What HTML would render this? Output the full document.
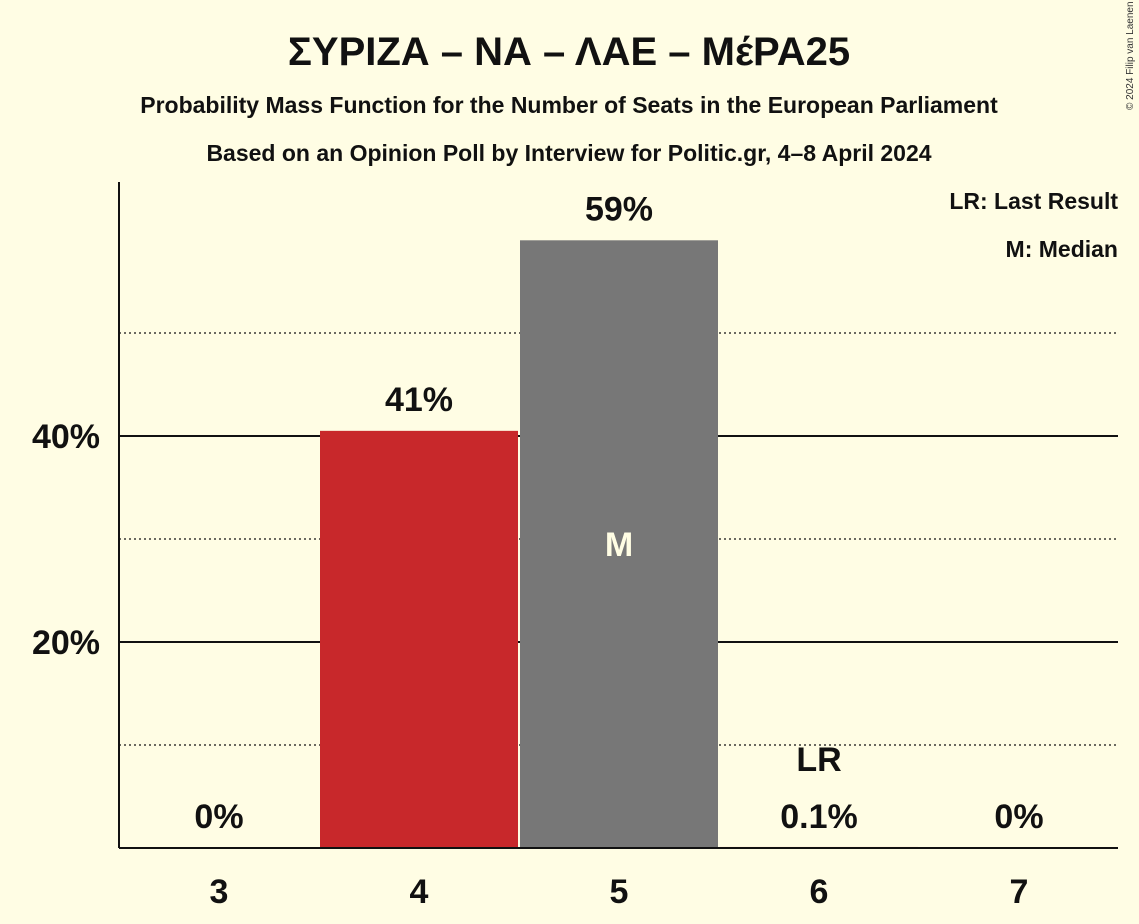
<!DOCTYPE html>
<html><head><meta charset="utf-8"><style>
body{margin:0;background:#FFFDE4;}
svg{display:block;font-family:"Liberation Sans","DejaVu Sans",sans-serif;}
</style></head><body>
<svg id="chart" width="1139" height="924">
<rect width="1139" height="924" fill="#FFFDE4"/>
<text x="569" y="65" text-anchor="middle" font-size="40" font-weight="bold" fill="#111">ΣΥΡΙΖΑ – ΝΑ – ΛΑΕ – ΜέΡΑ25</text>
<text x="569" y="113" text-anchor="middle" font-size="23" font-weight="bold" fill="#111">Probability Mass Function for the Number of Seats in the European Parliament</text>
<text x="569" y="161" text-anchor="middle" font-size="23" font-weight="bold" fill="#111">Based on an Opinion Poll by Interview for Politic.gr, 4–8 April 2024</text>
<text x="1133" y="110" font-size="10" fill="#333" transform="rotate(-90 1133 110)">© 2024 Filip van Laenen</text>
<text x="1118" y="209" text-anchor="end" font-size="23" font-weight="bold" fill="#111">LR: Last Result</text>
<text x="1118" y="257" text-anchor="end" font-size="23" font-weight="bold" fill="#111">M: Median</text>
<g id="grid"></g><g id="bars"></g><g id="labels"></g>
<line x1="119" y1="182" x2="119" y2="848" stroke="#111" stroke-width="2"/>
<line x1="119" y1="848" x2="1118" y2="848" stroke="#111" stroke-width="2"/>
</svg>
<script>
const seats=[3,4,5,6,7];
const probs=[0,40.5,59.0,0.1,0];
const valueLabels=["0%","41%","59%","0.1%","0%"];
const barColors=["#C8282B","#C8282B","#777777","#C8282B","#C8282B"];
const yTicks=[20,40];
const yMinor=[10,30,50];
const medianSeat=5, lastResultSeat=6;
const NS="http://www.w3.org/2000/svg";
const x0=119,band=200,yBase=848,pxPer=10.3;
const xs=i=>x0+band*i+band/2;
const ys=v=>yBase-v*pxPer;
function mk(t,a,p){const e=document.createElementNS(NS,t);for(const k in a)e.setAttribute(k,a[k]);document.getElementById(p).appendChild(e);return e;}
yMinor.forEach(v=>{const l=mk('line',{x1:x0,x2:1118,y1:ys(v),y2:ys(v),stroke:'#111','stroke-width':1.3,'stroke-dasharray':'2,3'},'grid');

});
yTicks.forEach(v=>{const l=mk('line',{x1:x0,x2:1118,y1:ys(v),y2:ys(v),stroke:'#111','stroke-width':2},'grid');


const t=mk('text',{x:100,y:ys(v)+12,'text-anchor':'end','font-size':34,'font-weight':'bold',fill:'#111'},'grid');t.textContent=v+'%';

});
seats.forEach((s,i)=>{const cx=xs(i);
if(probs[i]>0){const r=mk('rect',{x:cx-99,y:ys(probs[i]),width:198,height:yBase-ys(probs[i]),fill:barColors[i]},'bars');

}
const ly=probs[i]>5?ys(probs[i])-20:828;
const t=mk('text',{x:cx,y:ly,'text-anchor':'middle','font-size':34,'font-weight':'bold',fill:'#111'},'labels');t.textContent=valueLabels[i];


const xt=mk('text',{x:cx,y:903,'text-anchor':'middle','font-size':34,'font-weight':'bold',fill:'#111'},'labels');xt.textContent=s;


if(s===medianSeat){const m=mk('text',{x:cx,y:ys(probs[i]/2)+12,'text-anchor':'middle','font-size':34,'font-weight':'bold',fill:'#FFFDE4'},'labels');m.textContent='M';

}
if(s===lastResultSeat){const m=mk('text',{x:cx,y:771,'text-anchor':'middle','font-size':34,'font-weight':'bold',fill:'#111'},'labels');m.textContent='LR';

}
});
</script>
</body></html>
